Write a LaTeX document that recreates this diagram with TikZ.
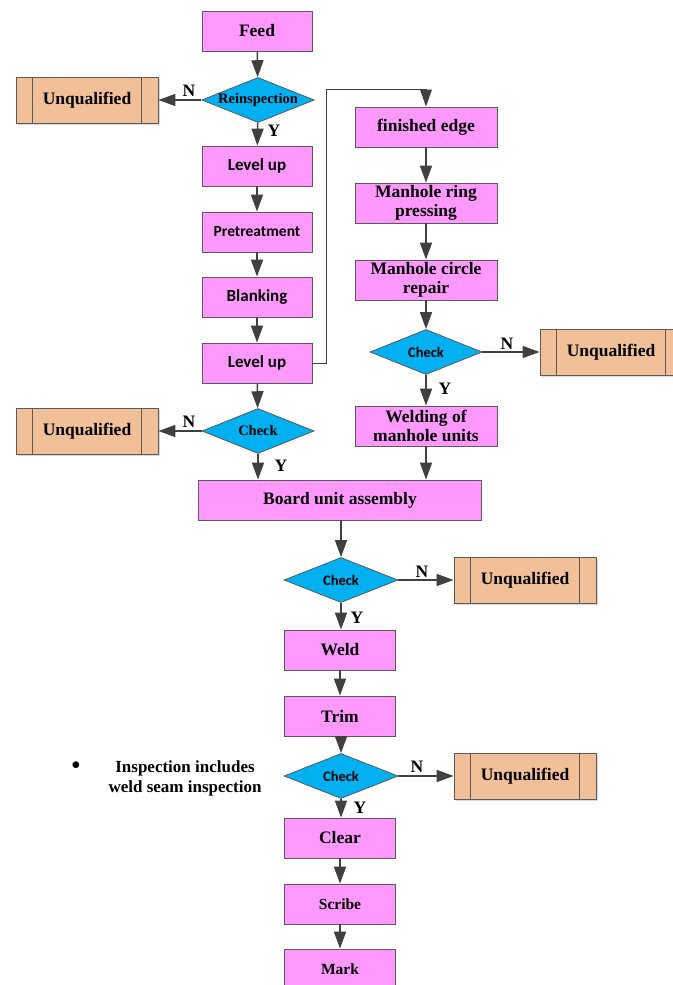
\documentclass[tikz,border=0pt]{standalone}
\usepackage{fontspec}
\setmainfont{Liberation Serif}
\newfontfamily\calib{Carlito}
\usetikzlibrary{shapes.geometric,arrows.meta,calc,shadows}
\definecolor{boxpink}{HTML}{FF99FF}
\definecolor{dblue}{HTML}{00B0F0}
\definecolor{tan}{HTML}{F2C098}
\definecolor{bord}{HTML}{5A5A5A}
\definecolor{arr}{HTML}{404040}
\tikzset{
  proc/.style={draw=bord, line width=0.8pt, fill=boxpink, minimum width=110pt, minimum height=40pt, inner sep=1pt, align=center, font=\fontsize{17.5}{19.5}\selectfont\bfseries},
  wproc/.style={proc, minimum width=142pt},
  calproc/.style={proc, font=\calib\fontsize{17}{19}\selectfont\bfseries},
  dec/.style={diamond, draw=bord, line width=0.8pt, fill=dblue, aspect=2.5, minimum width=112pt, minimum height=45pt, inner sep=0pt, font=\fontsize{14.5}{16}\selectfont\bfseries},
  caldec/.style={dec, font=\calib\fontsize{14.5}{16}\selectfont\bfseries},
  unq/.style={draw=bord, line width=0.8pt, fill=tan, minimum width=142pt, minimum height=46pt, inner sep=1pt, font=\fontsize{17.5}{19.5}\selectfont\bfseries, drop shadow={shadow xshift=2pt, shadow yshift=-2pt, fill=black!25, opacity=0.6}},
  flow/.style={draw=arr, line width=1.5pt, -{Triangle[length=17pt, width=12pt]}},
  thinflow/.style={draw=arr, line width=1pt, -{Triangle[length=17pt, width=12pt, line width=0pt]}},
  lbl/.style={font=\fontsize{17.5}{19}\selectfont\bfseries, inner sep=0pt}
}
\newcommand{\unqlines}[1]{%
  \draw[bord, line width=0.8pt] ($(#1.north west)+(17,0)$) -- ($(#1.south west)+(17,0)$);
  \draw[bord, line width=0.8pt] ($(#1.north east)+(-17,0)$) -- ($(#1.south east)+(-17,0)$);}
\begin{document}
\begin{tikzpicture}[x=1pt, y=-1pt]
\useasboundingbox (0,0) rectangle (672,985);
% left column
\node[proc] (feed) at (257,31) {Feed};
\node[dec] (reinsp) at (258,100) {Reinspection};
\node[unq] (unq1) at (87,100) {Unqualified};
\node[calproc] (lvl1) at (257,166) {Level up};
\node[calproc, font=\calib\fontsize{15.5}{18}\selectfont\bfseries] (pre) at (257,232) {Pretreatment};
\node[calproc] (blank) at (257,297) {Blanking};
\node[calproc] (lvl2) at (257,363) {Level up};
\node[dec] (chk1) at (258,431) {Check};
\node[unq] (unq2) at (87,431) {Unqualified};
% right column
\node[wproc] (fin) at (426,127) {finished edge};
\node[wproc] (ring) at (426,203) {Manhole ring\\pressing};
\node[wproc] (circ) at (426,280) {Manhole circle\\repair};
\node[caldec] (chk2) at (426,352) {Check};
\node[unq] (unq5) at (611,352) {Unqualified};
\node[wproc] (mw) at (426,426) {Welding of\\manhole units};
% main
\node[proc, minimum width=283pt] (board) at (340,500) {Board unit assembly};
\node[caldec, minimum width=114pt] (chk3) at (341,580) {Check};
\node[unq] (unq3) at (525,580) {Unqualified};
\node[proc, minimum width=111pt] (weld) at (340,650) {Weld};
\node[proc, minimum width=111pt] (trim) at (340,716) {Trim};
\node[caldec, minimum width=114pt] (chk4) at (341,776) {Check};
\node[unq] (unq4) at (525,776) {Unqualified};
\node[proc, minimum width=111pt] (clear) at (340,838) {Clear};
\node[proc, minimum width=111pt, font=\fontsize{15.5}{18}\selectfont\bfseries] (scribe) at (340,904) {Scribe};
\node[proc, minimum width=111pt, font=\fontsize{15.5}{18}\selectfont\bfseries] (mark) at (340,969) {Mark};
% inner lines of unqualified boxes
\unqlines{unq1}\unqlines{unq2}\unqlines{unq3}\unqlines{unq4}\unqlines{unq5}
% note
\node[font=\fontsize{17}{19}\selectfont] (bullet) at (76,766) {$\bullet$};
\node[lbl, align=center, font=\fontsize{17}{20}\selectfont\bfseries] (note) at (185,778) {Inspection includes\\weld seam inspection};
% connectors left column
\draw[flow] (feed) -- (reinsp);
\draw[flow] (reinsp.west) -- (unq1.east);
\draw[flow] (reinsp) -- (lvl1);
\draw[flow] (lvl1) -- (pre);
\draw[flow] (pre) -- (blank);
\draw[flow] (blank) -- (lvl2);
\draw[flow] (lvl2) -- (chk1);
\draw[flow] (chk1.west) -- (unq2.east);
\draw[flow] (chk1.south) -- (chk1.south |- board.north);
% jump to right column
\coordinate (bend) at (426,89);
\draw[thinflow] (lvl2.east) -- ++(14,0) |- (bend) -- (fin.north);
\draw[flow] (fin) -- (ring);
\draw[flow] (ring) -- (circ);
\draw[flow] (circ) -- (chk2);
\draw[flow] (chk2.east) -- (unq5.west);
\draw[flow] (chk2) -- (mw);
\draw[flow] (mw.south) -- (mw.south |- board.north);
% main column
\draw[flow] (board.south -| chk3.north) -- (chk3.north);
\draw[flow] (chk3.east) -- (unq3.west);
\draw[flow] (chk3.south) -- (chk3.south |- weld.north);
\draw[flow] (weld) -- (trim);
\draw[flow] (trim.south -| chk4.north) -- (chk4.north);
\draw[flow] (chk4.east) -- (unq4.west);
\draw[flow] (chk4.south) -- (chk4.south |- clear.north);
\draw[flow] (clear) -- (scribe);
\draw[flow] (scribe) -- (mark);
% labels
\node[lbl] (n1) at (189,91) {N};
\node[lbl] (y1) at (274,131) {Y};
\node[lbl] (n2) at (189,422) {N};
\node[lbl] (y2) at (281,466) {Y};
\node[lbl] (n5) at (507,344) {N};
\node[lbl] (y5) at (445,389) {Y};
\node[lbl] (n3) at (422,572) {N};
\node[lbl] (y3) at (357,618) {Y};
\node[lbl] (n4) at (417,767) {N};
\node[lbl] (y4) at (360,808) {Y};
\end{tikzpicture}
\end{document}
